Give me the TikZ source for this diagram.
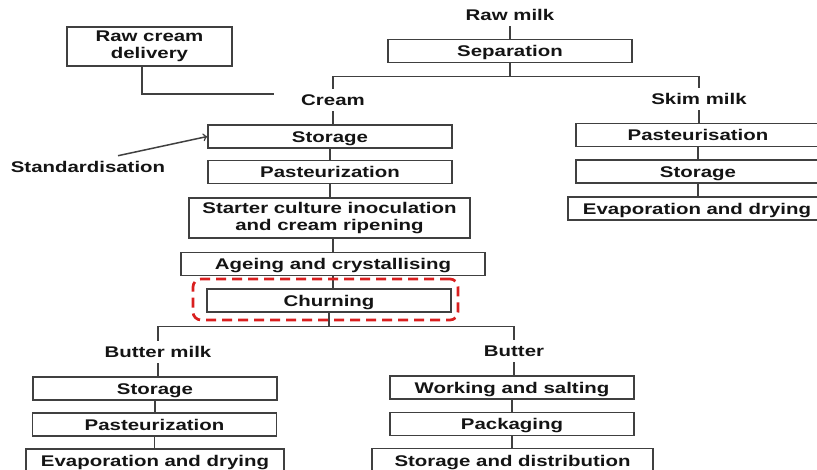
\documentclass[tikz,border=0pt]{standalone}
\usepackage{fontspec}
\setmainfont[FakeStretch=1.32]{Liberation Sans}
\usetikzlibrary{arrows}
\newlength{\du}
\setlength{\du}{0.711\unitlength}
\newcommand{\diafont}{\fontsize{11}{12.2}\selectfont\bfseries}

\tikzset{
  boxbase/.style={draw=dialinecolor, fill=white, line width=1.500000\du, inner sep=0pt,
    minimum width=244\du, minimum height=23\du, align=center, text=diatextcolor, font=\diafont},
  procbox/.style={boxbase, text height=9.5pt, text depth=1.6pt},
  steplabel/.style={inner sep=0pt, minimum height=22\du, text height=9.5pt, text depth=1.6pt,
    text=diatextcolor, font=\diafont},
  conn/.style={draw=dialinecolor, line width=1.500000\du, >=to},
  hilite/.style={draw=diaredcolor, line width=2.700000\du, dash pattern=on 10\du off 6\du,
    rounded corners=8\du, minimum width=265\du, minimum height=41\du, inner sep=0pt}
}

\begin{document}
\begin{tikzpicture}[even odd rule]
\pgftransformxscale{1.000000}
\pgftransformyscale{-1.000000}
\definecolor{dialinecolor}{rgb}{0.250000, 0.250000, 0.250000}
\definecolor{diatextcolor}{rgb}{0.080000, 0.080000, 0.080000}
\definecolor{diaredcolor}{rgb}{0.850000, 0.120000, 0.120000}
\clip (0.000000\du,0.000000\du) rectangle (817.000000\du,470.000000\du);
% milk and separation
\node[steplabel] (rawmilk) at (510.000000\du,15.000000\du){Raw milk};
\node[procbox] (sep) at (510.000000\du,51.000000\du){Separation};
\draw[conn] (rawmilk.south) -- (rawmilk.south |- sep.north);
\node[steplabel] (cream) at (333.000000\du,100.000000\du){Cream};
\node[steplabel] (skim) at (699.000000\du,99.000000\du){Skim milk};
\draw[conn] (cream.north) -- ++(0,-12.000000\du) coordinate (ja) -| (skim.north);
\draw[conn] (sep.south) -- (sep.south |- ja);
% raw cream
\node[boxbase, minimum width=165\du, minimum height=39\du] (rcd) at (149.500000\du,46.500000\du){Raw cream\\delivery};
\coordinate (rcdend) at (274.000000\du,94.000000\du);
\draw[conn] ([xshift=-7.500000\du]rcd.south) |- (rcdend);
% cream line
\node[procbox] (cstore) at (330.000000\du,136.500000\du){Storage};
\node[steplabel] (stdz) at (88.000000\du,167.000000\du){Standardisation};
\draw[conn,->] ([xshift=30.000000\du]stdz.north) -- (cstore.west);
\node[procbox] (cpast) at (330.000000\du,172.000000\du){Pasteurization};
\node[boxbase, minimum width=281\du, minimum height=40\du] (starter) at (329.500000\du,218.000000\du){Starter culture inoculation\\and cream ripening};
\node[procbox, minimum width=304\du] (ageing) at (333.000000\du,264.000000\du){Ageing and crystallising};
\node[procbox] (churn) at (329.000000\du,300.500000\du){Churning};
\draw[conn] (cream.south) -- (cream.south |- cstore.north);
\draw[conn] (cstore.south) -- (cstore.south |- cpast.north);
\draw[conn] (cpast.south) -- (cpast.south |- starter.north);
\draw[conn] (ageing.north) -- (ageing.north |- starter.south);
\draw[conn] (ageing.south) -- (ageing.south |- churn.north);
% skim milk line
\node[procbox] (spast) at (698.000000\du,135.000000\du){Pasteurisation};
\node[procbox] (sstore) at (698.000000\du,171.500000\du){Storage};
\node[procbox, minimum width=258\du] (sevap) at (697.000000\du,208.500000\du){Evaporation and drying};
\draw[conn] (skim.south) -- (skim.south |- spast.north);
\draw[conn] (spast.south) -- (spast.south |- sstore.north);
\draw[conn] (sstore.south) -- (sstore.south |- sevap.north);
% after churning
\node[steplabel] (bmilk) at (158.000000\du,352.000000\du){Butter milk};
\node[steplabel] (butter) at (514.000000\du,351.000000\du){Butter};
\draw[conn] (bmilk.north) -- ++(0,-14.000000\du) coordinate (jb) -| (butter.north);
\draw[conn] (churn.south) -- (churn.south |- jb);
\node[procbox] (bstore) at (155.000000\du,388.500000\du){Storage};
\node[procbox] (bpast) at (154.500000\du,424.500000\du){Pasteurization};
\node[procbox, minimum width=258\du, minimum height=24\du] (bevap) at (155.000000\du,461.000000\du){Evaporation and drying};
\draw[conn] (bmilk.south) -- (bmilk.south |- bstore.north);
\draw[conn] (bstore.south) -- (bstore.south |- bpast.north);
\draw[conn] (bpast.south) -- (bpast.south |- bevap.north);
\node[procbox] (work) at (512.000000\du,387.500000\du){Working and salting};
\node[procbox] (pack) at (512.000000\du,424.000000\du){Packaging};
\node[procbox, minimum width=281\du, minimum height=24\du] (dist) at (512.500000\du,460.500000\du){Storage and distribution};
\draw[conn] (butter.south) -- (butter.south |- work.north);
\draw[conn] (work.south) -- (work.south |- pack.north);
\draw[conn] (pack.south) -- (pack.south |- dist.north);
% was here!!!
\node[hilite] (focus) at (325.500000\du,299.500000\du){};
\end{tikzpicture}
\end{document}
